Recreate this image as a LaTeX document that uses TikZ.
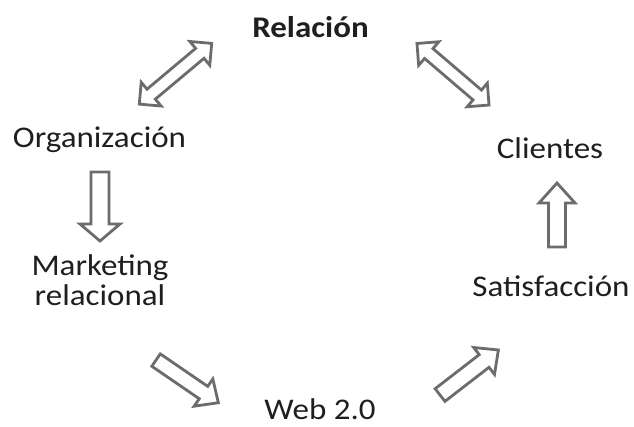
\documentclass[tikz,border=0pt]{standalone}
\usepackage{fontspec}
\setmainfont{Carlito}[FakeStretch=1.1]
\begin{document}
\begin{tikzpicture}[x=1pt, y=-1pt,
  blockarrow/.style={draw=arrowgray, fill=white, line width=2.8pt, line join=miter},
  label/.style={anchor=base, inner sep=0pt, text=black!88,
                font=\fontsize{30}{30}\selectfont}]
\definecolor{arrowgray}{RGB}{108,108,108}

% single block arrow: centre x, centre y, direction, length, shaft, head width, head length
\newcommand\onearrow[7]{%
  \begin{scope}[shift={(#1,#2)}, rotate=#3]
    \draw[blockarrow] (-#4/2,-#5/2) -- (#4/2-#7,-#5/2) -- (#4/2-#7,-#6/2)
      -- (#4/2,0) -- (#4/2-#7,#6/2) -- (#4/2-#7,#5/2) -- (-#4/2,#5/2) -- cycle;
  \end{scope}}
% double block arrow with the same parameters
\newcommand\twoarrow[7]{%
  \begin{scope}[shift={(#1,#2)}, rotate=#3]
    \draw[blockarrow] (-#4/2,0) -- (-#4/2+#7,-#6/2) -- (-#4/2+#7,-#5/2)
      -- (#4/2-#7,-#5/2) -- (#4/2-#7,-#6/2) -- (#4/2,0) -- (#4/2-#7,#6/2)
      -- (#4/2-#7,#5/2) -- (-#4/2+#7,#5/2) -- (-#4/2+#7,#6/2) -- cycle;
  \end{scope}}

\fill[white] (0,0) rectangle (634,426);
\useasboundingbox (0,0) rectangle (634,426);

% labels
\node[label, font=\fontsize{30}{30}\selectfont\bfseries] (rel) at (310.5,37) {Relación};
\node[label] (org) at (99.5,147) {Organización};
\node[label] (cli) at (550,158) {Clientes};
\node[label, align=center] (mkt) at (100,305) {Marketing\\relacional};
\node[label] (sat) at (551,296) {Satisfacción};
\node[label] (web) at (320,419) {Web 2.0};

% block arrows of the cycle
\twoarrow{175.5}{73.75}{40}{94.5}{13}{31}{15.5}
\twoarrow{453}{74.25}{-40.5}{94.8}{13}{31}{15.5}
\onearrow{100}{206.5}{-90}{69}{18}{40}{17}
\onearrow{187.2}{381.4}{-34.4}{75.5}{15}{33}{18}
\onearrow{469.2}{372.5}{37.7}{73.7}{16}{34}{18}
\onearrow{557}{215}{90}{64}{17}{36}{20}
\end{tikzpicture}
\end{document}
